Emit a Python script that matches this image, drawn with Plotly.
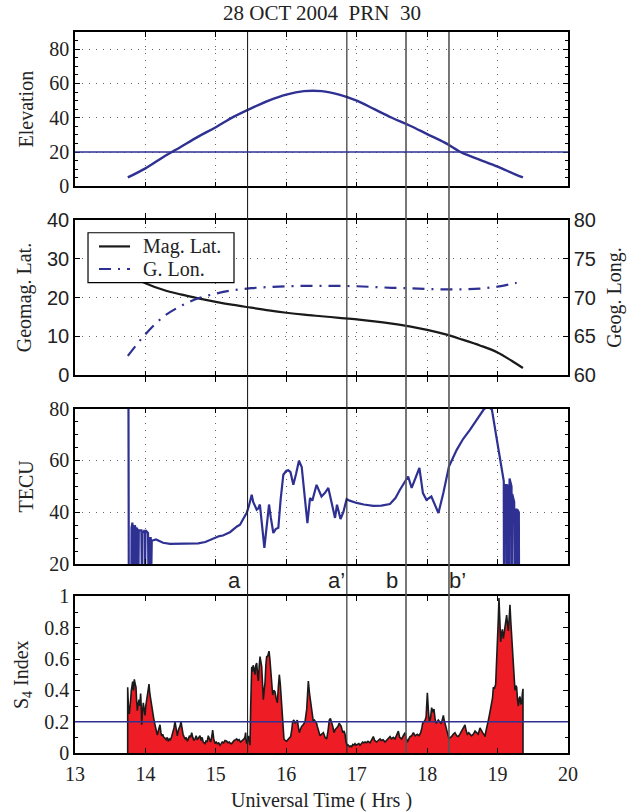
import plotly.graph_objects as go

# ---------------- data ----------------
title_text = "28 OCT 2004\u00a0\u00a0PRN\u00a0\u00a030"
event_times = [15.45, 16.86, 17.70, 18.31]
event_labels = ["a", "a\u2019", "b", "b\u2019"]
event_label_x = [15.27, 16.72, 17.50, 18.43]
legend_names = ["Mag. Lat.", "G. Lon."]

# panel 1: elevation
elev_t = [13.75, 14.0, 14.25, 14.5, 14.75, 15.0, 15.25, 15.5, 15.75, 16.0, 16.25, 16.5,
          16.75, 17.0, 17.25, 17.5, 17.75, 18.0, 18.25, 18.5, 18.75, 19.0, 19.25, 19.36]
elev_v = [5.2, 10.5, 17.0, 23.0, 29.0, 34.5, 40.5, 45.5, 50.0, 53.5, 55.5, 55.5,
          53.5, 50.0, 45.0, 40.0, 35.5, 30.5, 25.5, 19.5, 15.5, 11.5, 7.0, 5.2]
elev_threshold = 20

# panel 2: geomagnetic latitude and geographic longitude
pos_t = [13.75, 14.0, 14.25, 14.5, 14.75, 15.0, 15.25, 15.5, 15.75, 16.0, 16.25, 16.5,
         16.75, 17.0, 17.25, 17.5, 17.75, 18.0, 18.25, 18.5, 18.75, 19.0, 19.25, 19.36]
mag_lat = [26.0, 23.7, 22.0, 20.8, 19.8, 18.9, 18.1, 17.4, 16.7, 16.1, 15.6, 15.2,
           14.8, 14.4, 13.9, 13.3, 12.6, 11.7, 10.6, 9.2, 7.7, 5.9, 3.2, 1.9]
geo_lon = [62.5, 65.3, 67.5, 68.9, 69.9, 70.5, 70.95, 71.2, 71.35, 71.45, 71.5, 71.5,
           71.5, 71.45, 71.35, 71.25, 71.2, 71.1, 71.05, 71.05, 71.15, 71.4, 71.85, 72.1]

# panel 3: TEC
tec_t = [13.758, 13.764, 13.800, 13.803, 13.815, 13.819, 13.823, 13.826, 13.840, 13.844, 13.848,
         13.851, 13.862, 13.866, 13.870, 13.873, 13.895, 13.899, 13.903, 13.906, 13.943, 13.947,
         13.951, 13.954, 13.990, 13.994, 13.998, 14.001, 14.037, 14.041, 14.045, 14.048, 14.075,
         14.079, 14.083, 14.086, 14.09, 14.15, 14.20, 14.25, 14.35, 14.45, 14.55, 14.65, 14.75,
         14.85, 14.96, 15.05, 15.10, 15.20, 15.30, 15.343, 15.40, 15.437, 15.47, 15.509, 15.53,
         15.556, 15.58, 15.603, 15.625, 15.689, 15.72, 15.755, 15.78, 15.816, 15.85, 15.887, 15.92,
         15.958, 16.0, 16.029, 16.06, 16.10, 16.14, 16.18, 16.219, 16.26, 16.30, 16.337, 16.37,
         16.43, 16.50, 16.55, 16.597, 16.692, 16.72, 16.77, 16.81, 16.857, 16.90, 17.0, 17.1,
         17.236, 17.35, 17.472, 17.55, 17.614, 17.685, 17.73, 17.78, 17.83, 17.89, 17.94, 17.99,
         18.06, 18.11, 18.16, 18.23, 18.31, 18.42, 18.51, 18.61, 18.70, 18.80, 18.86, 18.92,
         18.99, 19.06, 19.088, 19.091, 19.094, 19.097, 19.125, 19.128, 19.131, 19.134, 19.160,
         19.163, 19.166, 19.170, 19.198, 19.201, 19.204, 19.208, 19.236, 19.239, 19.242, 19.246,
         19.270, 19.273, 19.276, 19.280, 19.302, 19.305]
tec_v = [100, 10, 10, 34, 36, 10, 10, 35, 34, 10, 10,
         35, 33, 10, 10, 34, 33, 10, 10, 33, 33, 10,
         10, 32, 33, 10, 10, 33, 32, 10, 10, 30, 30,
         10, 10, 29, 29.0, 29.5, 29.0, 28.2, 27.8, 27.8, 27.8, 27.8, 28.0,
         28.5, 29.7, 30.8, 31.0, 32.3, 34.5, 35.2, 38.0, 39.7, 42.5, 46.8, 44.0,
         42.3, 41.0, 41.5, 43.0, 26.2, 35.0, 43.0, 38.0, 32.0, 33.5, 34.0, 45.0,
         54.5, 56.0, 56.2, 55.5, 50.6, 55.0, 59.9, 57.5, 47.0, 35.8, 45.5, 44.5,
         50.6, 46.1, 47.5, 49.4, 37.8, 42.9, 37.4, 40.0, 45.1, 44.5, 43.6, 43.0,
         42.5, 42.6, 43.2, 45.5, 48.7, 51.9, 53.8, 49.4, 52.6, 57.1, 47.4, 44.8,
         46.1, 43.0, 39.7, 47.4, 57.7, 64.1, 68.3, 71.9, 75.5, 79.6, 81.0, 79.6,
         68.0, 57.7, 52.0, 10, 10, 50.5, 50.5, 10, 10, 50.5, 50.0,
         10, 10, 53.0, 50.0, 10, 10, 47.0, 44.0, 10, 10, 41.0,
         41.0, 10, 10, 41.0, 40.0, 10]

# panel 4: S4 index
s4_t = [13.748, 13.748, 13.758, 13.771, 13.780, 13.790, 13.800, 13.810, 13.819, 13.830, 13.842,
        13.855, 13.866, 13.875, 13.885, 13.895, 13.909, 13.920, 13.932, 13.940, 13.947, 13.958,
        13.970, 13.982, 13.994, 14.005, 14.018, 14.035, 14.051, 14.062, 14.074, 14.088, 14.103,
        14.118, 14.136, 14.150, 14.169, 14.188, 14.207, 14.220, 14.231, 14.245, 14.260, 14.278,
        14.295, 14.310, 14.325, 14.340, 14.355, 14.373, 14.390, 14.405, 14.420, 14.435, 14.453,
        14.470, 14.490, 14.505, 14.520, 14.534, 14.548, 14.565, 14.580, 14.595, 14.610, 14.625,
        14.640, 14.657, 14.672, 14.688, 14.704, 14.720, 14.735, 14.750, 14.775, 14.790, 14.805,
        14.820, 14.846, 14.860, 14.875, 14.893, 14.910, 14.925, 14.940, 14.955, 14.970, 14.988,
        15.005, 15.020, 15.040, 15.059, 15.075, 15.090, 15.110, 15.130, 15.154, 15.170, 15.190,
        15.210, 15.225, 15.240, 15.260, 15.280, 15.296, 15.310, 15.330, 15.350, 15.367, 15.385,
        15.400, 15.412, 15.423, 15.430, 15.438, 15.450, 15.461, 15.475, 15.485, 15.495, 15.509,
        15.520, 15.530, 15.542, 15.555, 15.568, 15.580, 15.592, 15.603, 15.615, 15.627, 15.640,
        15.651, 15.662, 15.674, 15.686, 15.698, 15.710, 15.721, 15.737, 15.755, 15.767, 15.778,
        15.792, 15.807, 15.822, 15.840, 15.855, 15.873, 15.887, 15.901, 15.915, 15.934, 15.950,
        15.967, 15.985, 16.005, 16.030, 16.062, 16.078, 16.091, 16.108, 16.124, 16.140, 16.157,
        16.170, 16.185, 16.200, 16.218, 16.240, 16.266, 16.290, 16.313, 16.330, 16.345, 16.360,
        16.372, 16.384, 16.400, 16.417, 16.430, 16.441, 16.460, 16.479, 16.500, 16.526, 16.550,
        16.574, 16.592, 16.611, 16.627, 16.644, 16.660, 16.678, 16.695, 16.715, 16.735, 16.750,
        16.763, 16.780, 16.801, 16.820, 16.834, 16.848, 16.865, 16.881, 16.900, 16.915, 16.928,
        16.945, 16.960, 16.976, 16.990, 17.010, 17.030, 17.047, 17.065, 17.085, 17.100, 17.118,
        17.140, 17.160, 17.189, 17.210, 17.236, 17.255, 17.283, 17.305, 17.331, 17.350, 17.375,
        17.402, 17.425, 17.450, 17.473, 17.495, 17.520, 17.544, 17.565, 17.591, 17.610, 17.638,
        17.660, 17.686, 17.700, 17.719, 17.740, 17.757, 17.780, 17.804, 17.830, 17.861, 17.885,
        17.908, 17.925, 17.936, 17.955, 17.970, 17.985, 18.003, 18.018, 18.031, 18.048, 18.064,
        18.080, 18.097, 18.112, 18.126, 18.142, 18.159, 18.178, 18.197, 18.215, 18.230, 18.242,
        18.253, 18.265, 18.277, 18.293, 18.310, 18.330, 18.348, 18.370, 18.395, 18.420, 18.443,
        18.465, 18.490, 18.512, 18.537, 18.555, 18.571, 18.590, 18.608, 18.630, 18.656, 18.680,
        18.703, 18.725, 18.750, 18.770, 18.788, 18.805, 18.822, 18.835, 18.845, 18.865, 18.883,
        18.900, 18.916, 18.928, 18.940, 18.955, 18.973, 18.985, 18.997, 19.010, 19.020, 19.030,
        19.044, 19.056, 19.068, 19.082, 19.095, 19.105, 19.118, 19.129, 19.142, 19.153, 19.165,
        19.176, 19.188, 19.200, 19.212, 19.224, 19.236, 19.247, 19.260, 19.271, 19.283, 19.295,
        19.307, 19.318, 19.330, 19.342, 19.352, 19.361, 19.361]
s4_v = [0.0, 0.42, 0.30, 0.25, 0.33, 0.34, 0.40, 0.44, 0.456, 0.40, 0.47,
        0.44, 0.42, 0.33, 0.27, 0.31, 0.34, 0.30, 0.38, 0.30, 0.18, 0.26,
        0.32, 0.28, 0.24, 0.30, 0.34, 0.40, 0.44, 0.38, 0.34, 0.30, 0.25,
        0.22, 0.18, 0.14, 0.114, 0.15, 0.18, 0.13, 0.11, 0.12, 0.10, 0.095,
        0.085, 0.10, 0.074, 0.09, 0.085, 0.105, 0.13, 0.16, 0.20, 0.14, 0.11,
        0.15, 0.17, 0.20, 0.15, 0.12, 0.105, 0.09, 0.10, 0.075, 0.09, 0.11,
        0.10, 0.13, 0.10, 0.08, 0.09, 0.11, 0.085, 0.095, 0.11, 0.08, 0.10,
        0.07, 0.06, 0.08, 0.07, 0.11, 0.08, 0.07, 0.10, 0.146, 0.09, 0.06,
        0.07, 0.06, 0.065, 0.05, 0.06, 0.07, 0.065, 0.08, 0.075, 0.065, 0.07,
        0.06, 0.06, 0.07, 0.08, 0.085, 0.09, 0.08, 0.085, 0.07, 0.075, 0.08,
        0.09, 0.10, 0.13, 0.08, 0.06, 0.08, 0.11, 0.07, 0.05, 0.30, 0.55,
        0.52, 0.56, 0.54, 0.50, 0.56, 0.575, 0.50, 0.46, 0.55, 0.615, 0.58,
        0.55, 0.45, 0.34, 0.40, 0.45, 0.56, 0.615, 0.62, 0.65, 0.60, 0.55,
        0.45, 0.37, 0.40, 0.39, 0.35, 0.32, 0.42, 0.50, 0.44, 0.30, 0.18,
        0.09, 0.08, 0.075, 0.09, 0.105, 0.15, 0.20, 0.21, 0.19, 0.20, 0.21,
        0.17, 0.13, 0.15, 0.17, 0.18, 0.20, 0.28, 0.46, 0.38, 0.32, 0.30,
        0.24, 0.20, 0.21, 0.20, 0.19, 0.17, 0.14, 0.11, 0.12, 0.13, 0.10,
        0.09, 0.14, 0.21, 0.22, 0.20, 0.17, 0.13, 0.15, 0.16, 0.17, 0.19,
        0.18, 0.17, 0.13, 0.14, 0.12, 0.07, 0.05, 0.05, 0.04, 0.045, 0.04,
        0.055, 0.05, 0.06, 0.05, 0.055, 0.06, 0.05, 0.06, 0.07, 0.065, 0.07,
        0.065, 0.075, 0.065, 0.08, 0.105, 0.08, 0.07, 0.08, 0.09, 0.08, 0.085,
        0.07, 0.08, 0.095, 0.105, 0.09, 0.10, 0.09, 0.11, 0.14, 0.10, 0.09,
        0.11, 0.13, 0.10, 0.07, 0.09, 0.105, 0.11, 0.13, 0.11, 0.12, 0.11,
        0.13, 0.16, 0.19, 0.20, 0.21, 0.23, 0.385, 0.27, 0.20, 0.22, 0.29,
        0.26, 0.28, 0.22, 0.19, 0.20, 0.21, 0.20, 0.19, 0.21, 0.24, 0.21,
        0.19, 0.17, 0.146, 0.12, 0.09, 0.10, 0.105, 0.12, 0.13, 0.11, 0.105,
        0.12, 0.14, 0.16, 0.18, 0.14, 0.12, 0.13, 0.12, 0.11, 0.12, 0.14,
        0.13, 0.12, 0.16, 0.14, 0.13, 0.12, 0.105, 0.14, 0.17, 0.20, 0.24,
        0.28, 0.30, 0.35, 0.42, 0.41, 0.44, 0.55, 0.66, 0.85, 0.99, 0.82,
        0.71, 0.76, 0.79, 0.73, 0.78, 0.81, 0.85, 0.88, 0.82, 0.78, 0.86,
        0.947, 0.84, 0.74, 0.64, 0.55, 0.46, 0.40, 0.43, 0.42, 0.34, 0.30,
        0.35, 0.36, 0.31, 0.32, 0.38, 0.41, 0.0]
s4_threshold = 0.2

# ---------------- styling ----------------
NAVY = "#2E3192"
RED = "#EE1C25"
BLACK_LINE = "#1a1a1a"
SERIF = "Liberation Serif"
SANS = "Liberation Sans"
GLON_DASH = "12px,7px,2px,7px"

fig = go.Figure()

fig.add_trace(go.Scatter(x=elev_t, y=elev_v, mode="lines", line=dict(color=NAVY, width=2.4, shape="spline"),
                         xaxis="x", yaxis="y", showlegend=False))
fig.add_trace(go.Scatter(x=pos_t, y=mag_lat, mode="lines", name=legend_names[0],
                         line=dict(color=BLACK_LINE, width=2.2, shape="spline"), xaxis="x2", yaxis="y2",
                         showlegend=False))
fig.add_trace(go.Scatter(x=pos_t, y=geo_lon, mode="lines", name=legend_names[1],
                         line=dict(color=NAVY, width=2.2, shape="spline", dash=GLON_DASH),
                         xaxis="x2", yaxis="y5", showlegend=False))
fig.add_trace(go.Scatter(x=tec_t, y=tec_v, mode="lines", line=dict(color=NAVY, width=2.2),
                         xaxis="x3", yaxis="y3", showlegend=False))
fig.add_trace(go.Scatter(x=s4_t, y=s4_v, mode="lines", fill="tozeroy", fillcolor=RED,
                         line=dict(color=BLACK_LINE, width=1.6), xaxis="x4", yaxis="y4", showlegend=False))

# domains (paper fractions, bottom-up)
doms = {1: [0.7859, 1.0], 2: [0.5237, 0.7397], 3: [0.2621, 0.4775], 4: [0.0, 0.2172]}

axis_common = dict(showline=True, linecolor="black", linewidth=1.5, mirror="allticks",
                   ticks="inside", ticklen=5, tickcolor="black", tickwidth=1,
                   tickfont=dict(family=SERIF, size=20, color="#222"), zeroline=False)
grid = dict(showgrid=True, gridcolor="#666", gridwidth=1, griddash="1px,6px")
nogrid = dict(showgrid=False)

layout = dict(width=633, height=812, margin=dict(l=75, r=65, t=32, b=59, autoexpand=False),
              paper_bgcolor="white", plot_bgcolor="white", showlegend=False,
              font=dict(family=SERIF, size=20, color="#222"))

for i in range(1, 5):
    key = "xaxis" if i == 1 else f"xaxis{i}"
    g = grid if i < 4 else nogrid
    layout[key] = dict(range=[13, 20], dtick=1, tick0=13, domain=[0, 1], anchor="y" if i == 1 else f"y{i}",
                       showticklabels=(i == 4), **axis_common, **g)
layout["xaxis4"]["ticklabelstandoff"] = 2
layout["xaxis4"]["title"] = dict(text="Universal Time ( Hrs )", font=dict(family=SERIF, size=20), standoff=12)

sans_ticks = dict(family=SANS, size=20, color="#222")
layout["yaxis"] = dict(domain=doms[1], range=[0, 90], tickvals=[0, 20, 40, 60, 80], anchor="x",
                       minor=dict(ticks="inside", ticklen=3, dtick=5, tickcolor="black", showgrid=False),
                       title=dict(text="Elevation", font=dict(size=20), standoff=10), **axis_common, **grid)
layout["yaxis2"] = dict(domain=doms[2], range=[0, 40], dtick=10, anchor="x2",
                        title=dict(text="Geomag. Lat.", font=dict(size=20), standoff=10),
                        **{**axis_common, "mirror": False, "tickfont": sans_ticks}, **grid)
layout["yaxis5"] = dict(range=[60, 80], dtick=5, overlaying="y2", side="right", anchor="x2",
                        title=dict(text="Geog. Long.", font=dict(size=20), standoff=12),
                        **{**axis_common, "mirror": False, "tickfont": sans_ticks}, showgrid=False)
layout["yaxis3"] = dict(domain=doms[3], range=[20, 80], tickvals=[20, 40, 60, 80], anchor="x3",
                        minor=dict(ticks="inside", ticklen=3, dtick=5, tickcolor="black", showgrid=False),
                        title=dict(text="TECU", font=dict(size=20), standoff=10), **axis_common, **grid)
layout["yaxis4"] = dict(domain=doms[4], range=[0, 1], dtick=0.2, anchor="x4",
                        minor=dict(ticks="inside", ticklen=3, dtick=0.1, tickcolor="black", showgrid=False),
                        title=dict(text="S<sub>4</sub> Index", font=dict(size=20), standoff=10),
                        **axis_common, **nogrid)

shapes = []
line_styles = [("#222", 1.1), ("#222", 1.1), ("#555", 1.6), ("#555", 1.6)]
for tv, (c, w) in zip(event_times, line_styles):
    shapes.append(dict(type="line", xref="x4", yref="paper", x0=tv, x1=tv, y0=0, y1=1,
                       line=dict(color=c, width=w), layer="above"))
shapes.append(dict(type="line", xref="x domain", yref="y", x0=0, x1=1, y0=elev_threshold, y1=elev_threshold,
                   line=dict(color=NAVY, width=1.5), layer="above"))
shapes.append(dict(type="line", xref="x4 domain", yref="y4", x0=0, x1=1, y0=s4_threshold, y1=s4_threshold,
                   line=dict(color=NAVY, width=1.5), layer="above"))

# legend box for panel 2 (drawn as a framed key inside the axes)
shapes.append(dict(type="rect", xref="paper", yref="paper", x0=0.0264, x1=0.3225, y0=0.6523, y1=0.7216,
                   fillcolor="white", line=dict(color="black", width=1.2), layer="above"))
shapes.append(dict(type="line", xref="paper", yref="paper", x0=0.0487, x1=0.1116, y0=0.7026, y1=0.7026,
                   line=dict(color=BLACK_LINE, width=2.2), layer="above"))
shapes.append(dict(type="line", xref="paper", yref="paper", x0=0.0487, x1=0.1116, y0=0.6713, y1=0.6713,
                   line=dict(color=NAVY, width=2.2, dash=GLON_DASH), layer="above"))
layout["shapes"] = shapes

annotations = []
for lx, lab in zip(event_label_x, event_labels):
    annotations.append(dict(x=lx, y=0.239, xref="x4", yref="paper", text=lab, showarrow=False,
                            font=dict(family=SANS, size=22, color="#222"), xanchor="center", yanchor="middle"))
annotations.append(dict(x=0.5, y=1.0, xref="paper", yref="paper", yshift=19, text=title_text, showarrow=False,
                        font=dict(family=SERIF, size=21, color="#222"), xanchor="center", yanchor="middle"))
for name, yy in zip(legend_names, [0.7026, 0.6713]):
    annotations.append(dict(x=0.1339, y=yy, xref="paper", yref="paper", text=name, showarrow=False,
                            font=dict(family=SERIF, size=20, color="#222"), xanchor="left", yanchor="middle"))
layout["annotations"] = annotations

fig.update_layout(**layout)
fig.write_html("out.html", config={"displayModeBar": False},
               post_script="document.body.style.margin='0px';document.body.style.padding='0px';"
                           "document.documentElement.style.overflow='hidden';")
